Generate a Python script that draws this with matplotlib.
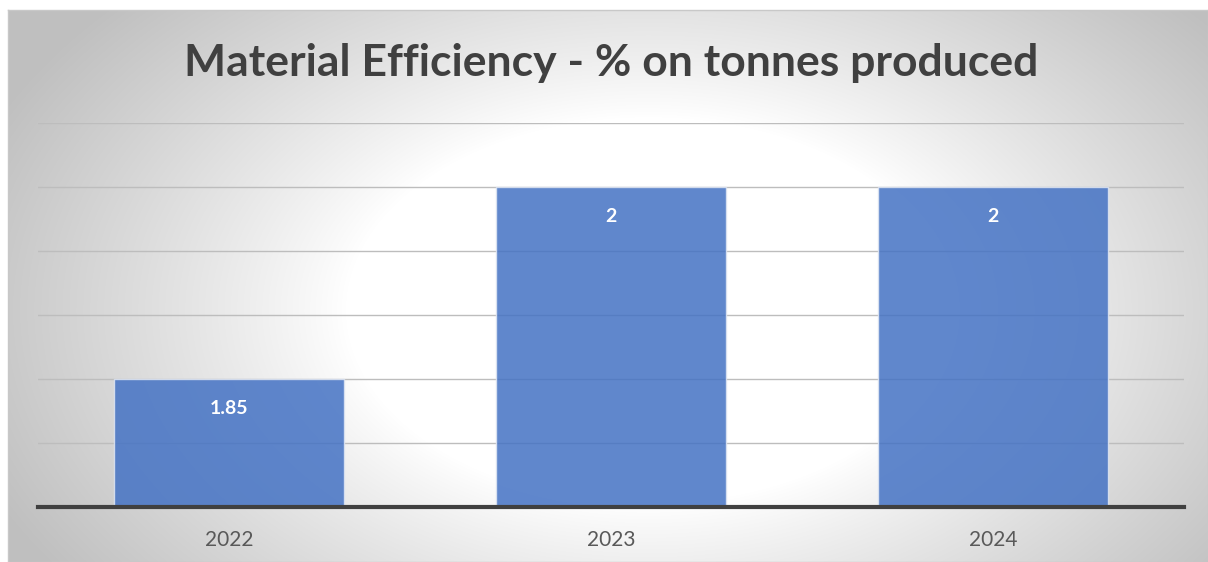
import numpy as np
import matplotlib.pyplot as plt

# data
years = ['2022', '2023', '2024']
efficiency = [1.85, 2, 2]
labels = ['1.85', '2', '2']

W, H = 1208, 562
fig = plt.figure(figsize=(W / 100, H / 100), dpi=100)
fig.patch.set_facecolor('white')

# background with radial gradient (chart area frame)
bg = fig.add_axes([8 / W, 0, 1200 / W, 1 - 10 / H])
yy, xx = np.mgrid[0:552, 0:1200]
r = np.sqrt(((xx - 640) / 720) ** 2 + ((yy - 300) / 460) ** 2)
t = np.clip((r - 0.42) / 0.58, 0, 1)
val = 1.0 - 0.25 * t ** 0.9
img = np.dstack([val, val, val])
bg.imshow(img, aspect='auto', extent=[0, 1, 0, 1], origin='upper')
bg.set_xlim(0, 1)
bg.set_ylim(0, 1)
for s in bg.spines.values():
    s.set_color('#c8c8c8')
    s.set_linewidth(1)
bg.set_xticks([])
bg.set_yticks([])

# main chart
ax = fig.add_axes([38 / W, 1 - 507 / H, 1146 / W, 384 / H])
ax.set_facecolor('none')
x = np.arange(len(years))
bars = ax.bar(x, efficiency, width=0.6, color='#4472c4', alpha=0.85,
              edgecolor='#dfe6f3', linewidth=1, zorder=3)
ax.set_ylim(1.75, 2.05)
ax.set_xlim(-0.5, 2.5)
ax.set_yticks(np.arange(1.75, 2.06, 0.05))
ax.yaxis.grid(True, color='#bdbdbd', linewidth=1, zorder=1)
ax.tick_params(axis='y', left=False, labelleft=False)
ax.tick_params(axis='x', bottom=False, labelsize=15, colors='#595959', pad=13)
ax.set_xticks(x)
ax.set_xticklabels(years, family=['Lato', 'DejaVu Sans'])
for s in ['top', 'right', 'left']:
    ax.spines[s].set_visible(False)
ax.spines['bottom'].set_color('#404040')
ax.spines['bottom'].set_linewidth(3)
ax.spines['bottom'].set_zorder(4)

for b, lab in zip(bars, labels):
    ax.annotate(lab, (b.get_x() + b.get_width() / 2, b.get_height()),
                xytext=(0, -21), textcoords='offset points', ha='center', va='center',
                color='white', fontsize=14, fontweight='bold', family=['Lato', 'DejaVu Sans'],
                zorder=5)

fig.text(611 / W, 1 - 63 / H, 'Material Efficiency - % on tonnes produced',
         ha='center', va='center', fontsize=32, fontweight='bold', color='#404040',
         family=['Lato', 'DejaVu Sans'])

fig.savefig('out.png', dpi=100)
